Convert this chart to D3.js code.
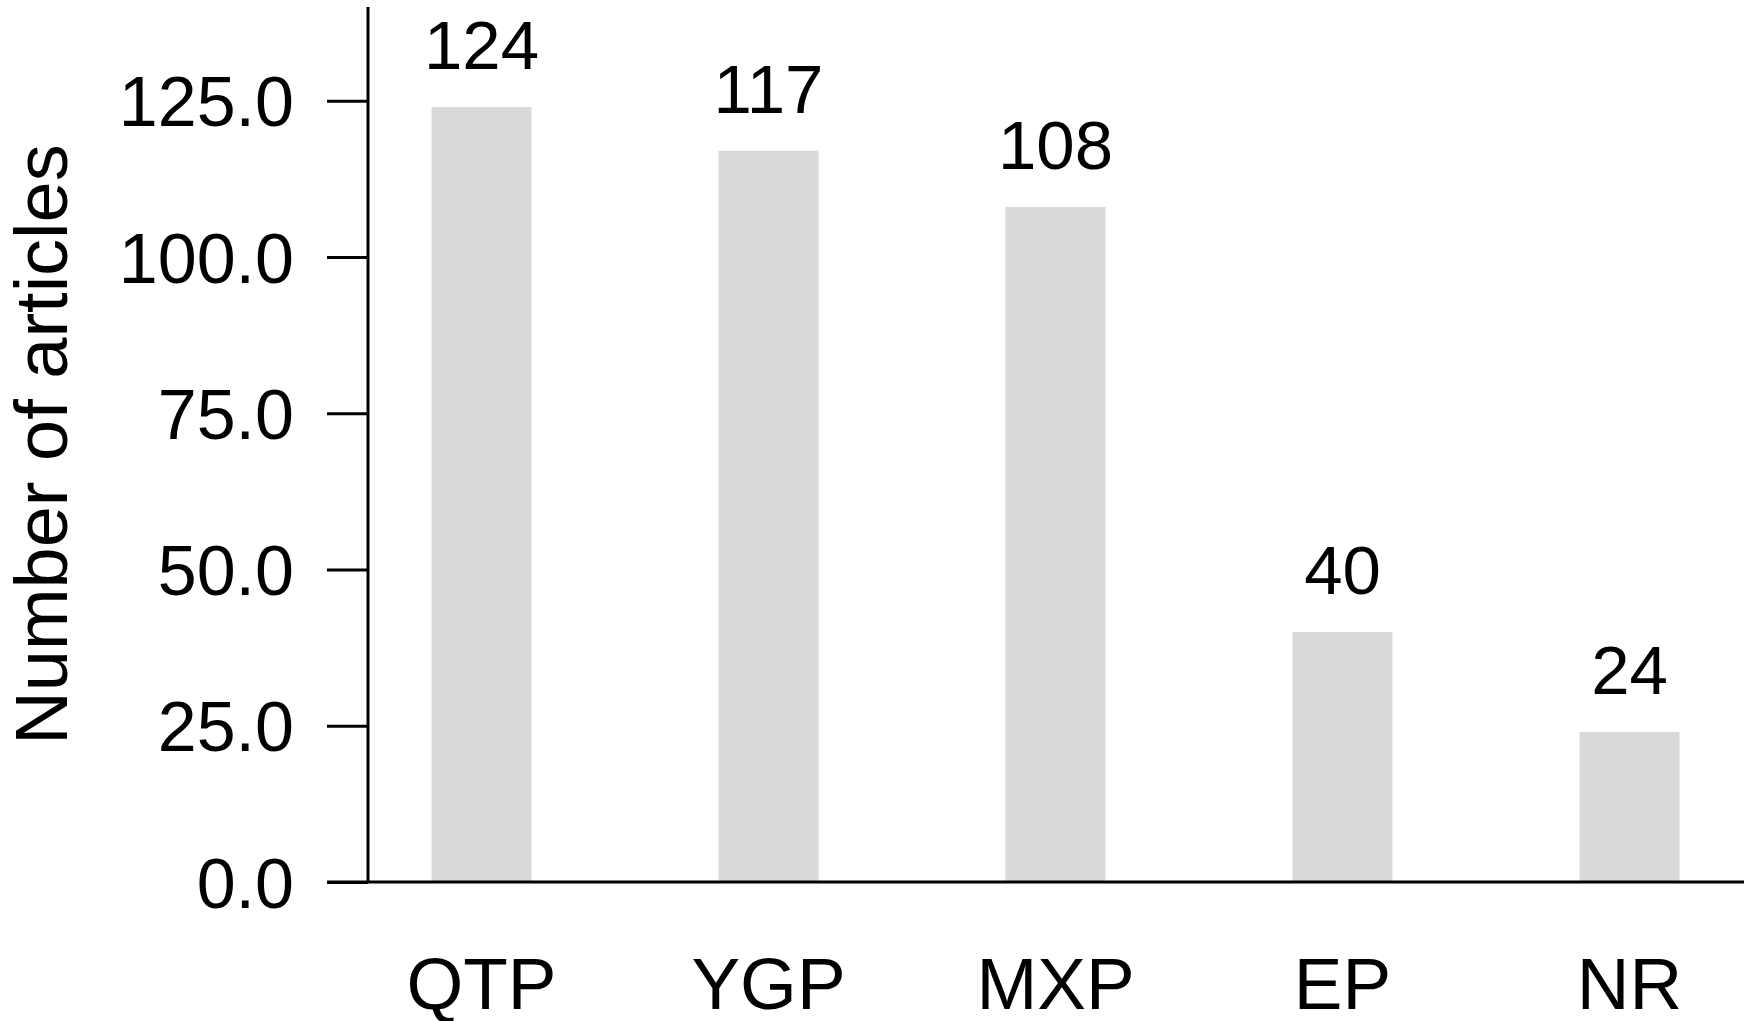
<!DOCTYPE html>
<html>
<head>
<meta charset="utf-8">
<script src="https://cdn.jsdelivr.net/npm/d3@7"></script>
<style>
  html, body { margin: 0; padding: 0; background: #fff; }
  svg { display: block; }
  text { font-family: "Liberation Sans", Arial, sans-serif; fill: #000; }
</style>
</head>
<body>
<svg id="chart" width="1756" height="1021"></svg>
<script>
const categories = ["QTP", "YGP", "MXP", "EP", "NR"];
const articleCounts = [124, 117, 108, 40, 24];
const yTickValues = [0, 25, 50, 75, 100, 125];
const yAxisTitle = "Number of articles";

const svg = d3.select("#chart");
const axisX = 368, axisY = 882, axisTop = 7, xEnd = 1744;

const y = d3.scaleLinear().domain([0, 140]).range([axisY, axisTop]);
const x = d3.scaleBand().domain(categories).range([338, 1773])
  .paddingInner(0.6516).paddingOuter(0.3258);

const rows = categories.map((c, i) => ({ c, v: articleCounts[i] }));

// bars
svg.append("g").selectAll("rect")
  .data(rows)
  .join("rect")
  .attr("x", d => x(d.c))
  .attr("width", x.bandwidth())
  .attr("y", d => y(d.v))
  .attr("height", d => y(0) - y(d.v))
  .attr("fill", "#d9d9d9");

// value labels
svg.append("g").selectAll("text")
  .data(rows)
  .join("text")
  .attr("x", d => x(d.c) + x.bandwidth() / 2)
  .attr("y", d => y(d.v) - 38)
  .attr("text-anchor", "middle")
  .attr("font-size", 69)
  .text(d => d.v);

// y axis
const yAxis = d3.axisLeft(y).tickValues(yTickValues).tickFormat(d3.format(".1f"))
  .tickSize(41).tickPadding(33);
const gy = svg.append("g").attr("transform", `translate(${axisX},0)`).call(yAxis);
gy.select(".domain").remove();
gy.selectAll(".tick line").attr("stroke", "#000").attr("stroke-width", 3);
gy.selectAll(".tick text").attr("font-size", 70).attr("font-family", "Liberation Sans, Arial, sans-serif")
  .attr("fill", "#000").attr("dy", "0.36em");
gy.append("line").attr("x1", 0).attr("x2", 0).attr("y1", axisTop).attr("y2", axisY)
  .attr("stroke", "#000").attr("stroke-width", 3);

// x axis
const xAxis = d3.axisBottom(x).tickSize(0).tickPadding(0);
const gx = svg.append("g").attr("transform", `translate(0,${axisY})`).call(xAxis);
gx.select(".domain").remove();
gx.selectAll(".tick text").attr("font-size", 73).attr("font-family", "Liberation Sans, Arial, sans-serif")
  .attr("fill", "#000").attr("dy", null).attr("y", 1009 - axisY);
gx.append("line").attr("x1", 327).attr("x2", xEnd).attr("y1", 0).attr("y2", 0)
  .attr("stroke", "#000").attr("stroke-width", 3);

// y title
svg.append("text")
  .attr("transform", `translate(67,${(axisTop + axisY) / 2}) rotate(-90)`)
  .attr("text-anchor", "middle")
  .attr("font-size", 74)
  .text(yAxisTitle);
</script>
</body>
</html>
